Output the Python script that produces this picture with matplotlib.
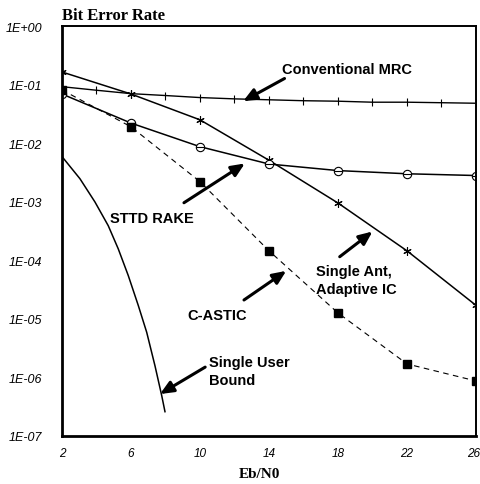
import matplotlib
matplotlib.use("Agg")
import matplotlib.pyplot as plt
from matplotlib.transforms import ScaledTranslation

# Eb/N0 (dB) grid
ebn0_mrc = [2, 4, 6, 8, 10, 12, 14, 16, 18, 20, 22, 24, 26]
ber_mrc = [0.092, 0.080, 0.070, 0.065, 0.060, 0.057, 0.055, 0.053,
           0.052, 0.050, 0.050, 0.049, 0.048]

ebn0 = [2, 6, 10, 14, 18, 22, 26]
ber_single_ant = [0.164, 0.069, 0.025, 0.0051, 0.00095, 1.45e-4, 1.7e-5]
ber_sttd = [0.069, 0.022, 0.0087, 0.0044, 0.0034, 0.0030, 0.0028]
ber_castic = [0.081, 0.019, 0.0022, 1.45e-4, 1.26e-5, 1.7e-6, 8.7e-7]

# single user bound
ebn0_bound = [2.02, 3.04, 3.91, 4.68, 5.26, 5.84, 6.42, 6.91, 7.39, 7.78, 7.97]
ber_bound = [5.8e-3, 2.47e-3, 9.9e-4, 3.9e-4, 1.57e-4, 5.5e-5, 1.7e-5,
             5.9e-6, 1.58e-6, 4.9e-7, 2.6e-7]

x_ticks = [2, 6, 10, 14, 18, 22, 26]
y_ticks = [1e0, 1e-1, 1e-2, 1e-3, 1e-4, 1e-5, 1e-6, 1e-7]
y_labels = ["1E+00", "1E-01", "1E-02", "1E-03", "1E-04", "1E-05", "1E-06", "1E-07"]

fig = plt.figure(figsize=(4.81, 4.85), dpi=100)
ax = fig.add_axes([62 / 481, 1 - 437 / 485, 414 / 481, 410 / 485])

ax.plot(ebn0_mrc, ber_mrc, color="black", lw=1.0, marker="|", ms=6, mew=0.8)
ax.plot(ebn0, ber_single_ant, color="black", lw=1.1, marker=(6, 2, 0), ms=6, mew=0.8)
ax.plot(ebn0, ber_sttd, color="black", lw=1.1, marker="o", ms=6, mfc="white", mew=0.8)
ax.plot(ebn0, ber_sttd, color="black", lw=0, marker="_", ms=6, mew=0.8)
ax.plot(ebn0, ber_castic, color="black", lw=0.8, ls=(0, (5, 4)), marker="s", ms=6)
ax.plot(ebn0_bound, ber_bound, color="black", lw=1.1)

ax.set_yscale("log")
ax.set_xlim(2, 26)
ax.set_ylim(1e-7, 1e0)
ax.set_xticks(x_ticks)
ax.set_xticklabels([str(v) for v in x_ticks])
ax.set_yticks(y_ticks)
ax.set_yticklabels(y_labels)
ax.minorticks_off()
ax.tick_params(axis="x", length=0, pad=8)
ax.tick_params(axis="y", length=0, pad=14)
for lab in ax.get_xticklabels():
    lab.set_family("Liberation Sans")
    lab.set_style("italic")
    lab.set_fontsize(8.5)
for lab in ax.get_yticklabels():
    lab.set_family("Liberation Sans")
    lab.set_style("italic")
    lab.set_fontsize(9)

# keep the last x label inside the picture
last = ax.get_xticklabels()[-1]
last.set_horizontalalignment("right")
last.set_transform(last.get_transform() + ScaledTranslation(4 / 100, 0, fig.dpi_scale_trans))

for side in ("left", "bottom"):
    ax.spines[side].set_linewidth(2.0)
for side in ("top", "right"):
    ax.spines[side].set_linewidth(1.4)

fig.text(62 / 481, 1 - 16 / 485, "Bit Error Rate", family="Liberation Serif",
         weight="bold", fontsize=12, va="center", ha="left")
fig.text(259 / 481, 1 - 475 / 485, "Eb/N0", family="Liberation Serif",
         weight="bold", fontsize=11, va="center", ha="center")

arrow = dict(arrowstyle="-|>,head_length=0.8,head_width=0.35", color="black", lw=2.2,
             shrinkA=0, shrinkB=0)
font = dict(family="Liberation Sans", weight="bold", fontsize=10.5)

ax.annotate("", xy=(12.5, 0.052), xytext=(14.9, 0.127), arrowprops=arrow)
ax.text(18.5, 0.188, "Conventional MRC", ha="center", va="center", **font)

ax.annotate("", xy=(12.6, 0.0045), xytext=(9.07, 9.6e-4), arrowprops=arrow)
ax.text(7.22, 5.3e-4, "STTD RAKE", ha="center", va="center", **font)

ax.annotate("", xy=(20.0, 3.1e-4), xytext=(18.1, 1.15e-4), arrowprops=arrow)
ax.text(16.7, 4.6e-5, "Single Ant,\nAdaptive IC", ha="left", va="center",
        linespacing=1.35, **font)

ax.annotate("", xy=(15.0, 6.6e-5), xytext=(12.55, 2.1e-5), arrowprops=arrow)
ax.text(11.0, 1.17e-5, "C-ASTIC", ha="center", va="center", **font)

ax.annotate("", xy=(7.68, 5.2e-7), xytext=(10.3, 1.5e-6), arrowprops=arrow)
ax.text(10.5, 1.3e-6, "Single User\nBound", ha="left", va="center",
        linespacing=1.35, **font)

fig.savefig("out.png", dpi=100, facecolor="white")
